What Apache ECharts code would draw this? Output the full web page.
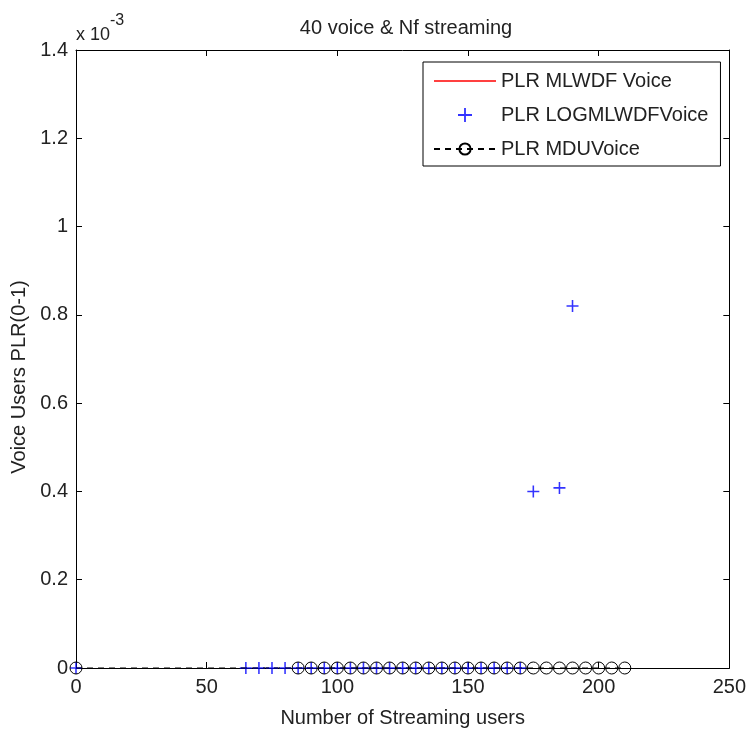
<!DOCTYPE html>
<html>
<head>
<meta charset="utf-8">
<script src="https://cdn.jsdelivr.net/npm/echarts@6/dist/echarts.min.js"></script>
<style>
  html, body { margin: 0; padding: 0; background: #fff; }
  #chart { width: 749px; height: 738px; }
</style>
</head>
<body>
<div id="chart"></div>
<script>
// values on the y axis are in units of 1e-3 (axis shows "x 10^-3")
var FONT = '"Liberation Sans", Arial, sans-serif';

var mlwdfVoice = [];  // red line, nothing visible in the picture

var logmlwdfX = [0, 65, 70, 75, 80, 85, 90, 95, 100, 105, 110, 115, 120, 125, 130,
    135, 140, 145, 150, 155, 160, 165, 170, 175, 185, 190];
var logmlwdfY = [0, 0, 0, 0, 0, 0, 0, 0, 0, 0, 0, 0, 0, 0, 0,
    0, 0, 0, 0, 0, 0, 0, 0, 0.40, 0.408, 0.82];

var mduX = [0, 85, 90, 95, 100, 105, 110, 115, 120, 125, 130, 135, 140, 145, 150,
    155, 160, 165, 170, 175, 180, 185, 190, 195, 200, 205, 210];
var mduY = [0, 0, 0, 0, 0, 0, 0, 0, 0, 0, 0, 0, 0, 0, 0,
    0, 0, 0, 0, 0, 0, 0, 0, 0, 0, 0, 0];

var xTicks = { min: 0, max: 250, interval: 50 };
var yTicks = { min: 0, max: 1.4, interval: 0.2 };

function pairs(xs, ys) {
    var arr = [];
    for (var i = 0; i < xs.length; i++) {
        arr.push([xs[i], ys[i]]);
    }
    return arr;
}

var plusPath = 'path://M-1,-0.13L-0.13,-0.13L-0.13,-1L0.13,-1L0.13,-0.13L1,-0.13L1,0.13L0.13,0.13L0.13,1L-0.13,1L-0.13,0.13L-1,0.13Z';

var textColor = '#222';
var axisLine = { show: true, onZero: false, lineStyle: { color: '#000', width: 1 } };
var tickIn = { show: true, inside: true, length: 6, lineStyle: { color: '#000' } };

var chart = echarts.init(document.getElementById('chart'));

chart.setOption({
    animation: false,
    backgroundColor: '#fff',
    textStyle: { fontFamily: FONT },
    title: {
        text: '40 voice & Nf streaming',
        left: 401,
        textAlign: 'center',
        top: 13,
        textStyle: { fontFamily: FONT, fontSize: 20, fontWeight: 'normal', color: textColor }
    },
    grid: { left: 76, right: 19, top: 50, bottom: 70, show: false },
    legend: {
        orient: 'vertical',
        left: 423,
        top: 62,
        padding: [9, 12, 7, 10],
        itemWidth: 62,
        itemHeight: 14,
        itemGap: 14,
        borderColor: '#000',
        borderWidth: 1,
        backgroundColor: '#fff',
        textStyle: { fontFamily: FONT, fontSize: 20, color: textColor },
        data: [
            {
                name: 'PLR MLWDF Voice',
                itemStyle: { color: 'rgba(0,0,0,0)', borderWidth: 0, opacity: 0 },
                lineStyle: { color: '#ff0000', width: 1.6, type: 'solid', opacity: 1 }
            },
            'PLR LOGMLWDFVoice',
            'PLR MDUVoice'
        ]
    },
    xAxis: [{
        type: 'value',
        min: xTicks.min, max: xTicks.max, interval: xTicks.interval,
        name: 'Number of Streaming users',
        nameLocation: 'middle',
        nameGap: 40,
        nameTextStyle: { fontFamily: FONT, fontSize: 20, color: textColor },
        axisLine: axisLine,
        axisTick: tickIn,
        axisLabel: { fontFamily: FONT, fontSize: 20, color: textColor, margin: 9 },
        splitLine: { show: false }
    }, {
        type: 'value',
        position: 'top',
        min: xTicks.min, max: xTicks.max, interval: xTicks.interval,
        axisLine: axisLine,
        axisTick: tickIn,
        axisLabel: { show: false },
        splitLine: { show: false }
    }],
    yAxis: [{
        type: 'value',
        min: yTicks.min, max: yTicks.max, interval: yTicks.interval,
        name: 'Voice Users PLR(0-1)',
        nameLocation: 'middle',
        nameGap: 46,
        nameTextStyle: { fontFamily: FONT, fontSize: 20, color: textColor, padding: [0, 36, 0, 0] },
        axisLine: axisLine,
        axisTick: tickIn,
        axisLabel: {
            fontFamily: FONT, fontSize: 20, color: textColor, margin: 8,
            formatter: function (v) { return parseFloat(v.toFixed(1)).toString(); }
        },
        splitLine: { show: false }
    }, {
        type: 'value',
        position: 'right',
        min: yTicks.min, max: yTicks.max, interval: yTicks.interval,
        axisLine: axisLine,
        axisTick: tickIn,
        axisLabel: { show: false },
        splitLine: { show: false }
    }],
    graphic: [{
        type: 'text',
        left: 76,
        top: 13,
        style: {
            text: '{a|x 10}{b|-3}',
            rich: {
                a: { fontFamily: FONT, fontSize: 18, fill: textColor, padding: [14, 0, 0, 0] },
                b: { fontFamily: FONT, fontSize: 16, fill: textColor, verticalAlign: 'top', padding: [1, 0, 0, 0] }
            }
        }
    }],
    series: [{
        name: 'PLR MLWDF Voice',
        type: 'line',
        symbol: 'none',
        color: '#ff0000',
        lineStyle: { color: '#ff0000', width: 1 },
        data: mlwdfVoice
    }, {
        name: 'PLR LOGMLWDFVoice',
        type: 'scatter',
        symbol: plusPath,
        symbolSize: 12,
        color: '#0000ff',
        itemStyle: { color: '#0000ff' },
        z: 3,
        data: pairs(logmlwdfX, logmlwdfY)
    }, {
        name: 'PLR MDUVoice',
        type: 'line',
        symbol: 'circle',
        symbolSize: 12,
        showAllSymbol: true,
        color: '#000',
        itemStyle: { color: 'rgba(0,0,0,0)', borderColor: '#000', borderWidth: 1 },
        lineStyle: { color: '#000', width: 1, type: [6, 5] },
        z: 4,
        data: pairs(mduX, mduY)
    }]
});
</script>
</body>
</html>
